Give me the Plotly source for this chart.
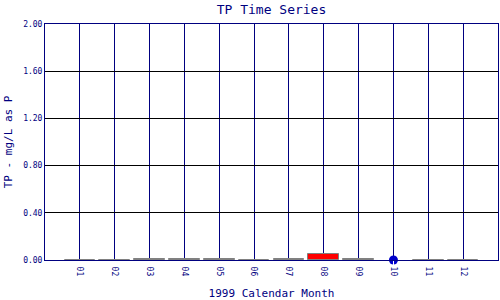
import plotly.graph_objects as go

months = [1, 2, 3, 4, 5, 6, 7, 8, 9, 11, 12]
tp_low = [0, 0, 0, 0, 0, 0, 0, 0, 0, 0, 0]
tp_high = [0.0, 0.0, 0.008, 0.008, 0.008, 0.0, 0.008, 0.05, 0.008, 0.0, 0.0]
box_colors = ["#808080"] * 7 + ["#FF0000"] + ["#808080"] * 3

dot_month = [10]
dot_value = [0.0]

tick_vals = list(range(1, 13))
tick_text = ["01", "02", "03", "04", "05", "06", "07", "08", "09", "10", "11", "12"]
y_ticks = [0, 0.4, 0.8, 1.2, 1.6, 2.0]

NAVY = "#000080"
FONT = "DejaVu Sans Mono"

fig = go.Figure()
fig.add_trace(go.Bar(
    x=months,
    y=[h - l for h, l in zip(tp_high, tp_low)],
    base=tp_low,
    width=0.88,
    marker=dict(color=box_colors, line=dict(color="#808080", width=1)),
    showlegend=False,
    hoverinfo="skip",
))
fig.add_trace(go.Scatter(
    x=dot_month, y=dot_value, mode="markers",
    marker=dict(color="#0000CC", size=9),
    showlegend=False, cliponaxis=False,
))

fig.update_layout(
    width=500, height=300,
    margin=dict(l=45, r=2, t=24, b=40),
    paper_bgcolor="white", plot_bgcolor="white",
    title=dict(text="TP Time Series", x=0.5, xref="paper", xanchor="center",
               y=0.985, yanchor="top",
               font=dict(family=FONT, size=13, color=NAVY)),
    font=dict(family=FONT, color=NAVY),
    bargap=0,
)
fig.update_xaxes(
    range=[0, 13], tickvals=tick_vals, ticktext=tick_text, tickangle=90,
    tickfont=dict(family=FONT, size=8, color=NAVY),
    showgrid=True, gridcolor=NAVY, gridwidth=1,
    showline=True, linecolor=NAVY, linewidth=1, mirror=True,
    zeroline=False, ticks="outside", ticklen=4, tickcolor="white",
    automargin=False,
    title=dict(text="1999 Calendar Month", font=dict(family=FONT, size=11, color=NAVY), standoff=16),
)
fig.update_yaxes(
    range=[0, 2.0], tickvals=y_ticks, tickformat=".2f",
    tickfont=dict(family=FONT, size=8, color=NAVY),
    showgrid=True, gridcolor="black", gridwidth=1,
    showline=True, linecolor=NAVY, linewidth=1, mirror=True,
    zeroline=False, ticks="", automargin=False,
    title=dict(text="TP - mg/L as P", font=dict(family=FONT, size=11, color=NAVY), standoff=8),
)

fig.write_html("out.html")
